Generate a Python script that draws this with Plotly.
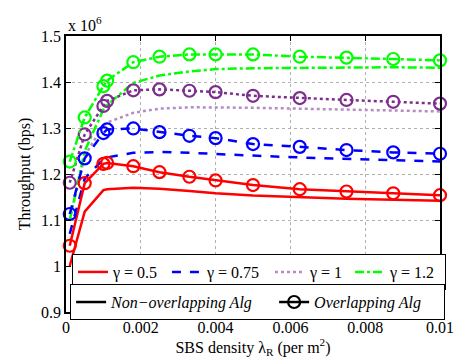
import plotly.graph_objects as go

# SBS density (per m^2)
x_vals = [0.0001, 0.0005, 0.001, 0.0011, 0.0018, 0.0025, 0.0033, 0.004,
          0.005, 0.00625, 0.0075, 0.00875, 0.01]

# Throughput in units of 1e6 bps
red_non = [1.00, 1.118, 1.165, 1.167, 1.170, 1.168, 1.163, 1.158,
           1.153, 1.149, 1.146, 1.144, 1.142]
red_ovl = [1.044, 1.180, 1.222, 1.224, 1.217, 1.204, 1.194, 1.186,
           1.176, 1.167, 1.162, 1.158, 1.154]
blue_non = [1.07, 1.19, 1.232, 1.236, 1.246, 1.248, 1.246, 1.243,
            1.240, 1.236, 1.233, 1.230, 1.227]
blue_ovl = [1.113, 1.234, 1.289, 1.297, 1.299, 1.291, 1.283, 1.278,
            1.265, 1.259, 1.252, 1.247, 1.244]
purple_non = [1.10, 1.24, 1.305, 1.312, 1.333, 1.342, 1.345, 1.345,
              1.344, 1.342, 1.340, 1.338, 1.336]
purple_ovl = [1.181, 1.286, 1.348, 1.359, 1.382, 1.384, 1.381, 1.378,
              1.370, 1.365, 1.361, 1.357, 1.353]
green_non = [1.10, 1.25, 1.34, 1.35, 1.398, 1.414, 1.423, 1.428,
             1.430, 1.431, 1.432, 1.432, 1.431]
green_ovl = [1.227, 1.323, 1.391, 1.403, 1.443, 1.455, 1.460, 1.460,
             1.460, 1.455, 1.453, 1.450, 1.447]

gamma_labels = ["γ = 0.5", "γ = 0.75", "γ = 1", "γ = 1.2"]
alg_labels = ["<i>Non−overlapping Alg</i>", "<i>Overlapping Alg</i>"]
x_ticks = [0, 0.002, 0.004, 0.006, 0.008, 0.01]
x_tick_text = ["0", "0.002", "0.004", "0.006", "0.008", "0.01"]
y_ticks = [0.9, 1.0, 1.1, 1.2, 1.3, 1.4, 1.5]
y_tick_text = ["0.9", "1", "1.1", "1.2", "1.3", "1.4", "1.5"]

colors = ["#ff0000", "#0000ff", "#7e2f8e", "#00ff00"]
non_colors = ["#ff0000", "#0000ff", "#b58cc4", "#00ff00"]
dashes = ["solid", "dash", "dot", "dashdot"]
legend_widths = [49, 58, 35, 50]
non_series = [red_non, blue_non, purple_non, green_non]
ovl_series = [red_ovl, blue_ovl, purple_ovl, green_ovl]

fig = go.Figure()
for i in range(4):
    fig.add_trace(go.Scatter(
        x=x_vals, y=non_series[i], mode="lines", name=gamma_labels[i],
        line=dict(color=non_colors[i], width=2.5, dash=dashes[i]),
        legend="legend", showlegend=True, legendwidth=legend_widths[i]))
for i in range(4):
    fig.add_trace(go.Scatter(
        x=x_vals, y=ovl_series[i], mode="lines+markers", showlegend=False,
        line=dict(color=colors[i], width=2.5, dash=dashes[i]),
        marker=dict(symbol="circle-open", size=12, color=colors[i],
                    line=dict(width=2.2, color=colors[i])),
        cliponaxis=False))
fig.add_trace(go.Scatter(x=[None], y=[None], mode="lines", name=alg_labels[0],
                         line=dict(color="black", width=2.5), legend="legend2",
                         legendwidth=158))
fig.add_trace(go.Scatter(x=[None], y=[None], mode="lines+markers", name=alg_labels[1],
                         line=dict(color="black", width=2.5),
                         marker=dict(symbol="circle-open", size=12, color="black",
                                     line=dict(width=2.2, color="black")),
                         legend="legend2", legendwidth=125))

font_fam = "Liberation Serif"
fig.update_layout(
    width=466, height=364,
    margin=dict(l=66, r=20, t=36, b=52),
    paper_bgcolor="white", plot_bgcolor="white",
    font=dict(family=font_fam, size=16, color="black"),
    xaxis=dict(range=[0, 0.01], tickvals=x_ticks, ticktext=x_tick_text,
               showgrid=True, gridcolor="#b0b0b0", griddash="dot", gridwidth=1,
               showline=True, linecolor="black", linewidth=1.5, mirror="ticks",
               ticks="inside", ticklen=5, tickcolor="black", zeroline=False,
               tickfont=dict(size=16),
               title=dict(text="SBS density λ<sub>R</sub> (per m<sup>2</sup>)",
                          standoff=4, font=dict(size=16))),
    yaxis=dict(range=[0.9, 1.5], tickvals=y_ticks, ticktext=y_tick_text,
               showgrid=True, gridcolor="#b0b0b0", griddash="dot", gridwidth=1,
               showline=True, linecolor="black", linewidth=1.5, mirror="ticks",
               ticks="inside", ticklen=5, tickcolor="black", zeroline=False,
               tickfont=dict(size=16),
               title=dict(text="Throughput (bps)", standoff=6, font=dict(size=16))),
    legend=dict(orientation="h", x=0.016, y=0.21, xanchor="left", yanchor="top",
                bordercolor="black", borderwidth=1, bgcolor="white",
                font=dict(size=16), itemwidth=30, tracegroupgap=0),
    legend2=dict(orientation="h", x=0.011, y=0.101, xanchor="left", yanchor="top",
                 bordercolor="black", borderwidth=1, bgcolor="white",
                 itemwidth=30, font=dict(size=16)),
    annotations=[dict(text="x 10<sup>6</sup>", xref="paper", yref="paper",
                      x=0, y=1, xanchor="left", yanchor="bottom", showarrow=False,
                      font=dict(size=16))],
)

fig.write_html("out.html")
